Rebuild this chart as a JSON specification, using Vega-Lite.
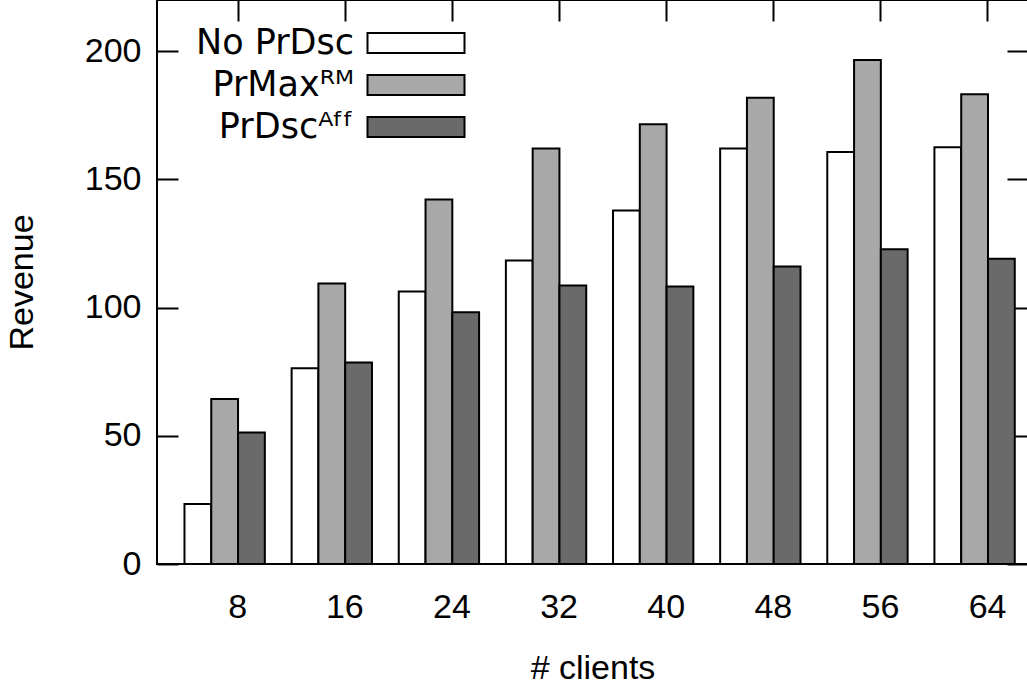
{
  "$schema": "https://vega.github.io/schema/vega-lite/v6.json",
  "width": 871,
  "height": 564,
  "autosize": {"type": "none"},
  "padding": {"left": 157, "top": 0, "right": 0, "bottom": 124},
  "background": "white",
  "config": {
    "view": {"stroke": "black", "strokeWidth": 2},
    "axis": {
      "grid": false,
      "domain": false,
      "tickColor": "black",
      "tickWidth": 2,
      "tickSize": -21,
      "labelFont": "Liberation Sans",
      "labelFontSize": 34,
      "labelColor": "black",
      "titleFont": "Liberation Sans",
      "titleFontSize": 34,
      "titleFontWeight": "normal",
      "titleColor": "black"
    }
  },
  "data": {
    "values": [
      {"clients": 8, "series": "No PrDsc", "revenue": 23.4},
      {"clients": 8, "series": "PrMaxᴿᴹ", "revenue": 64.4},
      {"clients": 8, "series": "PrDscᴬᶠᶠ", "revenue": 51.3},
      {"clients": 16, "series": "No PrDsc", "revenue": 76.4},
      {"clients": 16, "series": "PrMaxᴿᴹ", "revenue": 109.4},
      {"clients": 16, "series": "PrDscᴬᶠᶠ", "revenue": 78.6},
      {"clients": 24, "series": "No PrDsc", "revenue": 106.3},
      {"clients": 24, "series": "PrMaxᴿᴹ", "revenue": 142.2},
      {"clients": 24, "series": "PrDscᴬᶠᶠ", "revenue": 98.2},
      {"clients": 32, "series": "No PrDsc", "revenue": 118.4},
      {"clients": 32, "series": "PrMaxᴿᴹ", "revenue": 162.1},
      {"clients": 32, "series": "PrDscᴬᶠᶠ", "revenue": 108.6},
      {"clients": 40, "series": "No PrDsc", "revenue": 137.9},
      {"clients": 40, "series": "PrMaxᴿᴹ", "revenue": 171.5},
      {"clients": 40, "series": "PrDscᴬᶠᶠ", "revenue": 108.2},
      {"clients": 48, "series": "No PrDsc", "revenue": 162.1},
      {"clients": 48, "series": "PrMaxᴿᴹ", "revenue": 181.9},
      {"clients": 48, "series": "PrDscᴬᶠᶠ", "revenue": 116.0},
      {"clients": 56, "series": "No PrDsc", "revenue": 160.7},
      {"clients": 56, "series": "PrMaxᴿᴹ", "revenue": 196.6},
      {"clients": 56, "series": "PrDscᴬᶠᶠ", "revenue": 122.8},
      {"clients": 64, "series": "No PrDsc", "revenue": 162.6},
      {"clients": 64, "series": "PrMaxᴿᴹ", "revenue": 183.2},
      {"clients": 64, "series": "PrDscᴬᶠᶠ", "revenue": 119.1}
    ]
  },
  "layer": [
    {
      "mark": {"type": "bar", "stroke": "black", "strokeWidth": 2},
      "encoding": {
        "x": {
          "field": "clients",
          "type": "ordinal",
          "sort": [8, 16, 24, 32, 40, 48, 56, 64],
          "scale": {"paddingInner": 0.25, "paddingOuter": 0.19, "align": 0.675},
          "axis": {
            "orient": "bottom",
            "title": "# clients",
            "labelAngle": 0,
            "bandPosition": 0.6667,
            "labelOffset": 13,
            "labelPadding": 47,
            "titlePadding": 27
          }
        },
        "xOffset": {
          "field": "series",
          "sort": ["No PrDsc", "PrMaxᴿᴹ", "PrDscᴬᶠᶠ"],
          "scale": {"paddingInner": 0, "paddingOuter": 0}
        },
        "y": {
          "field": "revenue",
          "type": "quantitative",
          "scale": {"domain": [0, 220], "nice": false},
          "axis": {
            "orient": "left",
            "title": "Revenue",
            "values": [0, 50, 100, 150, 200],
            "labelPadding": 37,
            "titlePadding": 45
          }
        },
        "fill": {
          "field": "series",
          "type": "nominal",
          "scale": {
            "domain": ["No PrDsc", "PrMaxᴿᴹ", "PrDscᴬᶠᶠ"],
            "range": ["#ffffff", "#a8a8a8", "#6a6a6a"]
          },
          "legend": {
            "orient": "none",
            "legendX": 238,
            "legendY": 22,
            "title": null,
            "padding": 0,
            "symbolType": "M-2.425,-0.5H2.425V0.5H-2.425Z",
            "symbolSize": 1600,
            "symbolStrokeColor": "black",
            "symbolStrokeWidth": 2,
            "symbolOpacity": 1,
            "symbolOffset": 0,
            "labelFont": "DejaVu Sans",
            "labelFontSize": 35,
            "labelColor": "black",
            "labelAlign": "right",
            "labelOffset": -83,
            "labelLimit": 0,
            "rowPadding": 3
          }
        }
      }
    },
    {
      "mark": {"type": "bar", "opacity": 0},
      "encoding": {
        "x": {
          "field": "clients",
          "type": "ordinal",
          "sort": [8, 16, 24, 32, 40, 48, 56, 64],
          "axis": {"orient": "top", "title": null, "labels": false, "bandPosition": 0.6667}
        },
        "xOffset": {"field": "series", "sort": ["No PrDsc", "PrMaxᴿᴹ", "PrDscᴬᶠᶠ"]},
        "y": {
          "field": "revenue",
          "type": "quantitative",
          "axis": {"orient": "right", "title": null, "labels": false, "values": [0, 50, 100, 150, 200]}
        }
      }
    }
  ],
  "resolve": {"axis": {"x": "independent", "y": "independent"}}
}
